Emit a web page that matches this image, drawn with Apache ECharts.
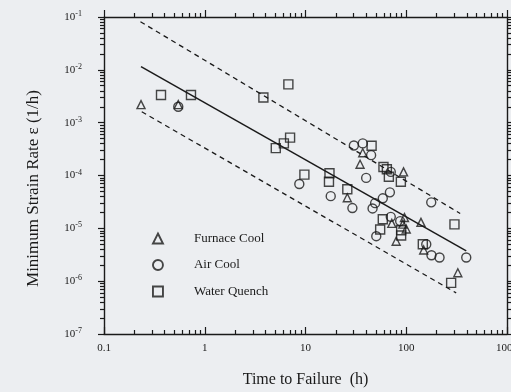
<!DOCTYPE html>
<html>
<head>
<meta charset="utf-8">
<script src="https://cdn.jsdelivr.net/npm/echarts@6/dist/echarts.min.js"></script>
<style>
  html, body { margin: 0; padding: 0; background: #eceef1; }
  #chart { width: 511px; height: 392px; }
</style>
</head>
<body>
<div id="chart"></div>
<script>
// time to failure (h), minimum strain rate (1/h)
const furnaceCool = [
  [0.233, 2.2e-3], [0.546, 2.2e-3], [37.0, 2.7e-4], [34.8, 1.63e-4], [26.0, 3.8e-5],
  [94, 1.17e-4], [71.9, 1.24e-5], [96, 1.6e-5], [92.5, 1.2e-5], [100, 9.7e-6],
  [79.4, 5.7e-6], [140, 1.3e-5], [149, 3.9e-6], [325, 1.44e-6]
]
const airCool = [
  [0.546, 2.0e-3], [8.68, 6.9e-5], [17.8, 4.07e-5], [29.2, 2.42e-5], [30.2, 3.7e-4],
  [37.0, 4.05e-4], [44.8, 2.43e-4], [40.0, 9.0e-5], [46.3, 2.38e-5], [49.1, 3.0e-5],
  [58.5, 3.7e-5], [68.8, 4.8e-5], [70.2, 1.65e-5], [87, 1.37e-5], [50.4, 7.1e-6],
  [70.2, 1.17e-4], [177, 3.1e-5], [158, 5.0e-6], [178, 3.1e-6], [214, 2.8e-6], [394, 2.8e-6]
]
const waterQuench = [
  [0.368, 3.33e-3], [0.73, 3.33e-3], [3.82, 3.0e-3], [6.76, 5.3e-3], [5.07, 3.3e-4],
  [6.1, 4.05e-4], [7.03, 5.2e-4], [9.75, 1.04e-4], [17.3, 1.1e-4], [17.1, 7.6e-5],
  [26.0, 5.5e-5], [45.3, 3.65e-4], [59.4, 1.45e-4], [64.2, 1.31e-4], [67.2, 9.5e-5],
  [88.4, 7.6e-5], [58.5, 1.49e-5], [55.1, 9.5e-6], [89, 9.2e-6], [89, 7.3e-6],
  [146, 5.0e-6], [301, 1.19e-5], [279, 9.3e-7]
]
// regression line and scatter band
const fitLine = [[0.233, 1.15e-2], [394, 3.75e-6]]
const upperBound = [[0.23, 8.15e-2], [343, 1.91e-5]]
const lowerBound = [[0.237, 1.61e-3], [313, 6.0e-7]]

// tick positions (log10 space) for the decoration axes
const xMajorTicks = [-1, 0, 1, 2, 3]
const yMajorTicks = [-7, -6, -5, -4, -3, -2, -1]
const minorOf = (from, to) => {
  const out = []
  for (let n = from; n < to; n++) {
    for (let k = 2; k <= 9; k++) out.push(n + Math.log10(k))
  }
  return out
}
const xMinorTicks = minorOf(-1, 3)
const yMinorTicks = minorOf(-7, -1)

const serif = 'Liberation Serif'
const ink = '#1a1a1a'
const hollow = { color: 'rgba(0,0,0,0)', borderColor: ink, borderWidth: 1.4 }

const tickAxis = (position, values, len, inside, line) => ({
  type: 'value',
  position: position,
  min: position === 'top' || position === 'bottom' ? -1 : -7,
  max: position === 'top' || position === 'bottom' ? 3 : -1,
  axisLine: { show: line, onZero: false, lineStyle: { color: ink, width: 1.4 } },
  axisTick: { show: true, inside: inside, length: len, customValues: values, lineStyle: { color: ink, width: 1.2 } },
  axisLabel: { show: false },
  splitLine: { show: false }
})

const myChart = echarts.init(document.getElementById('chart'))
myChart.setOption({
  animation: false,
  backgroundColor: '#eceef1',
  grid: { left: 104, right: 4, top: 17, bottom: 58, outerBoundsMode: 'none' },
  legend: {
    orient: 'vertical',
    left: 147,
    top: 227,
    itemWidth: 10,
    itemHeight: 10,
    itemGap: 13.5,
    data: ['Furnace Cool', 'Air Cool', 'Water Quench'],
    itemStyle: { color: 'rgba(0,0,0,0)', borderColor: ink, borderWidth: 1.9 },
    textStyle: { fontFamily: serif, fontSize: 13, color: ink, padding: [0, 0, 0, 26] }
  },
  xAxis: [
    {
      type: 'log',
      logBase: 10,
      min: 0.1,
      max: 1000,
      position: 'bottom',
      name: 'Time to Failure  (h)',
      nameLocation: 'middle',
      nameGap: 38,
      nameTextStyle: { fontFamily: serif, fontSize: 16, color: ink },
      axisLine: { onZero: false, lineStyle: { color: ink, width: 1.4 } },
      axisTick: { inside: true, length: 7, lineStyle: { color: ink, width: 1.2 } },
      axisLabel: {
        fontFamily: serif, fontSize: 11, color: ink, margin: 9,
        formatter: (value) => String(value)
      },
      splitLine: { show: false },
      minorTick: { show: false }
    },
    tickAxis('bottom', xMinorTicks, 4, true, false),
    tickAxis('top', xMajorTicks, 7, false, true),
    tickAxis('top', xMinorTicks, 4, false, false)
  ],
  yAxis: [
    {
      type: 'log',
      logBase: 10,
      min: 1e-7,
      max: 1e-1,
      position: 'left',
      name: 'Minimum Strain Rate ε (1/h)',
      nameLocation: 'middle',
      nameGap: 62,
      nameTextStyle: { fontFamily: serif, fontSize: 17, color: ink, padding: [0, 26, 0, 0] },
      axisLine: { onZero: false, lineStyle: { color: ink, width: 1.4 } },
      axisTick: { inside: false, length: 6, lineStyle: { color: ink, width: 1.2 } },
      axisLabel: {
        margin: 22,
        formatter: (value) => '{b|10}{s|' + Math.round(Math.log10(value)) + '}',
        rich: {
          b: { fontFamily: serif, fontSize: 11, color: ink, lineHeight: 14 },
          s: { fontFamily: serif, fontSize: 8, color: ink, verticalAlign: 'top', lineHeight: 14, padding: [0, 0, 4, 0] }
        }
      },
      splitLine: { show: false },
      minorTick: { show: false }
    },
    tickAxis('left', yMinorTicks, 4, false, false),
    tickAxis('right', yMajorTicks, 7, false, true),
    tickAxis('right', yMinorTicks, 4, false, false)
  ],
  series: [
    {
      name: 'Furnace Cool',
      type: 'scatter',
      symbol: 'triangle',
      symbolSize: 8,
      itemStyle: hollow,
      data: furnaceCool
    },
    {
      name: 'Air Cool',
      type: 'scatter',
      symbol: 'circle',
      symbolSize: 9,
      itemStyle: hollow,
      data: airCool
    },
    {
      name: 'Water Quench',
      type: 'scatter',
      symbol: 'rect',
      symbolSize: 9,
      itemStyle: hollow,
      data: waterQuench
    },
    {
      name: 'fit',
      type: 'line',
      showSymbol: false,
      silent: true,
      lineStyle: { color: ink, width: 1.5 },
      data: fitLine
    },
    {
      name: 'upper',
      type: 'line',
      showSymbol: false,
      silent: true,
      lineStyle: { color: ink, width: 1.3, type: [5, 4] },
      data: upperBound
    },
    {
      name: 'lower',
      type: 'line',
      showSymbol: false,
      silent: true,
      lineStyle: { color: ink, width: 1.3, type: [5, 4] },
      data: lowerBound
    }
  ]
})
window.addEventListener('resize', () => {
  myChart.resize()
})
</script>
</body>
</html>
